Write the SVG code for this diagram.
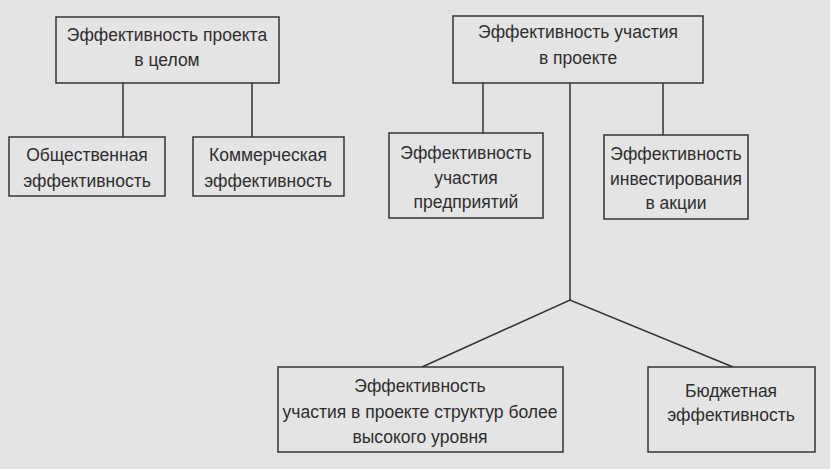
<svg xmlns="http://www.w3.org/2000/svg" width="830" height="469" viewBox="0 0 830 469">
<style>
.box{fill:#e4e4e4;stroke:#333;stroke-width:1.5}
.t{font-family:"Liberation Sans",Arial,sans-serif;font-size:17.5px;fill:#2e2e2e;text-anchor:middle}
.c{stroke:#333;stroke-width:1.5;fill:none}
</style>
<rect width="830" height="469" fill="#e4e4e4"/>
<g id="connectors">
<line class="c" x1="123" y1="83" x2="123" y2="137"/>
<line class="c" x1="252" y1="83" x2="252" y2="137"/>
<line class="c" x1="483" y1="83" x2="483" y2="133"/>
<line class="c" x1="663" y1="83" x2="663" y2="135"/>
<polyline class="c" points="570,83 570,300"/>
<polyline class="c" points="422,367 570,300 733,367"/>
</g>
<g id="project">
<rect class="box" x="56" y="17" width="223" height="66"/>
<text class="t" x="167" y="41">Эффективность проекта</text>
<text class="t" x="167" y="66">в целом</text>
</g>
<g id="public">
<rect class="box" x="9" y="137" width="156" height="59"/>
<text class="t" x="87" y="161">Общественная</text>
<text class="t" x="87" y="187">эффективность</text>
</g>
<g id="commercial">
<rect class="box" x="193" y="137" width="151" height="59"/>
<text class="t" x="268" y="161">Коммерческая</text>
<text class="t" x="268" y="187">эффективность</text>
</g>
<g id="participation">
<rect class="box" x="453" y="16" width="250" height="67"/>
<text class="t" x="578" y="38">Эффективность участия</text>
<text class="t" x="578" y="64">в проекте</text>
</g>
<g id="enterprises">
<rect class="box" x="389" y="133" width="154" height="85"/>
<text class="t" x="466" y="159">Эффективность</text>
<text class="t" x="466" y="184">участия</text>
<text class="t" x="466" y="208">предприятий</text>
</g>
<g id="shares">
<rect class="box" x="604" y="135" width="144" height="84"/>
<text class="t" x="676" y="160">Эффективность</text>
<text class="t" x="676" y="185">инвестирования</text>
<text class="t" x="676" y="209">в акции</text>
</g>
<g id="higher">
<rect class="box" x="278" y="367" width="285" height="85"/>
<text class="t" x="420" y="392">Эффективность</text>
<text class="t" x="420" y="418">участия в проекте структур более</text>
<text class="t" x="420" y="443">высокого уровня</text>
</g>
<g id="budget">
<rect class="box" x="648" y="367" width="167" height="85"/>
<text class="t" x="731" y="397">Бюджетная</text>
<text class="t" x="731" y="421">эффективность</text>
</g>
</svg>
